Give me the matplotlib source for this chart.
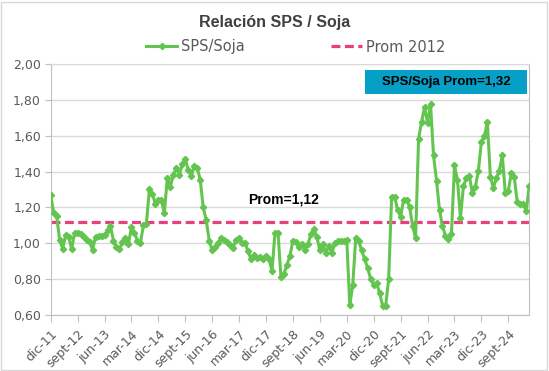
import numpy as np
import matplotlib.pyplot as plt
from matplotlib.lines import Line2D
from matplotlib.patches import Rectangle

# Relación SPS / Soja, mensual desde dic-11 (161 meses)
sps_soja = [
    1.27, 1.17, 1.15, 1.02, 0.97, 1.045, 1.035, 0.97, 1.055, 1.06,
    1.05, 1.035, 1.02, 1.005, 0.965, 1.035, 1.04, 1.04, 1.045, 1.075,
    1.095, 1.015, 0.98, 0.97, 1.005, 1.03, 0.995, 1.09, 1.06, 1.015,
    1.00, 1.10, 1.11, 1.30, 1.275, 1.22, 1.24, 1.24, 1.17, 1.365,
    1.315, 1.38, 1.42, 1.38, 1.44, 1.47, 1.41, 1.375, 1.43, 1.42,
    1.355, 1.20, 1.13, 1.015, 0.96,
    0.98, 1.00, 1.03, 1.02, 1.005, 0.99, 0.975, 1.02, 1.03, 1.00,
    1.00, 0.955, 0.91, 0.935, 0.92, 0.925, 0.915, 0.93, 0.91, 0.845,
    1.06, 1.06, 0.81, 0.83, 0.88, 0.93, 1.015, 1.005, 0.98, 0.995,
    0.965, 0.995, 1.05, 1.08, 1.035, 0.96, 0.995, 0.945, 0.985, 0.945,
    1.00, 1.01, 1.01, 1.013, 1.017, 0.655, 0.77, 1.03,
    1.01, 0.96, 0.91, 0.86, 0.80, 0.77, 0.78, 0.72, 0.65, 0.65, 0.80,
    1.26, 1.26, 1.185, 1.148, 1.243, 1.243, 1.204, 1.097, 1.028, 1.583,
    1.677, 1.76, 1.67, 1.776, 1.49, 1.35, 1.185, 1.097, 1.04, 1.022,
    1.054, 1.434, 1.353, 1.14, 1.32, 1.364, 1.374, 1.278, 1.316, 1.405,
    1.564, 1.596, 1.677, 1.372, 1.308, 1.364, 1.405, 1.49, 1.28, 1.293,
    1.39, 1.368, 1.228, 1.22, 1.22, 1.18, 1.32,
]
prom_2012 = 1.12
prom_total = 1.32

tick_labels = [
    "dic-11", "sept-12", "jun-13", "mar-14", "dic-14", "sept-15",
    "jun-16", "mar-17", "dic-17", "sept-18", "jun-19", "mar-20",
    "dic-20", "sept-21", "jun-22", "mar-23", "dic-23", "sept-24",
]
y_ticks = [0.6, 0.8, 1.0, 1.2, 1.4, 1.6, 1.8, 2.0]

GREEN = "#63C550"
PINK = "#EA3F7E"
GREY_TXT = "#595959"
GRID = "#D9D9D9"
AXIS = "#BFBFBF"


def main() -> None:
    plt.rcParams["font.family"] = ["DejaVu Sans"]
    fig = plt.figure(figsize=(5.49, 3.71), dpi=100)
    ax = fig.add_axes([0.0923, 0.151, 0.8717, 0.6765])

    x = np.arange(len(sps_soja))
    ax.axhline(prom_2012, color=PINK, lw=2.3, ls=(0, (2.8, 1.4)), zorder=2)
    ax.plot(x, sps_soja, color=GREEN, lw=2.2, marker="D", ms=3.2,
            mfc=GREEN, mec=GREEN, zorder=3)

    ax.set_xlim(0, len(sps_soja) - 1)
    ax.set_ylim(0.6, 2.0)
    ax.set_yticks(y_ticks)
    ax.set_yticklabels([f"{v:.2f}".replace(".", ",") for v in y_ticks])
    ax.set_xticks(np.arange(0, len(sps_soja), 9)[: len(tick_labels)])
    ax.set_xticklabels(tick_labels, rotation=45, ha="right",
                       rotation_mode="anchor")

    ax.tick_params(axis="y", labelsize=9, colors=GREY_TXT, length=4,
                   color=AXIS, pad=3)
    ax.tick_params(axis="x", labelsize=9, colors=GREY_TXT, length=5,
                   color=AXIS, pad=4)
    ax.grid(True, axis="y", color=GRID, lw=1)
    ax.set_axisbelow(True)
    for side in ("left", "bottom", "right"):
        ax.spines[side].set_color(AXIS)
    ax.spines["top"].set_color(GRID)

    ax.text(78, 1.245, "Prom=1,12", ha="center", va="center",
            fontsize=10, fontweight="bold", family="Liberation Sans",
            color="black")

    fig.text(0.5, 1 - 22 / 371, "Relación SPS / Soja", ha="center",
             va="center", fontsize=11.5, fontweight="bold",
             family="Liberation Sans", color="#404040")

    handles = [
        Line2D([], [], color=GREEN, lw=2.2, marker="D", ms=3.2),
        Line2D([], [], color=PINK, lw=2.3, ls=(0, (2.8, 1.4))),
    ]
    fig.legend(handles, ["SPS/Soja", "Prom 2012"], loc="center",
               bbox_to_anchor=(296 / 549, 1 - 47 / 371), ncol=2,
               frameon=False, fontsize=10.5, labelcolor=GREY_TXT,
               handlelength=2.1, handletextpad=0.3, columnspacing=5.9)

    fig.patches.append(Rectangle((365 / 549, 1 - 94 / 371), 162 / 549,
                                 24 / 371, transform=fig.transFigure,
                                 facecolor="#06A0C6", edgecolor="none"))
    fig.text(446 / 549, 1 - 82 / 371, f"SPS/Soja Prom={prom_total:.2f}".replace(".", ","),
             ha="center", va="center", fontsize=9.5, fontweight="bold",
             family="Liberation Sans", color="black")

    fig.patches.append(Rectangle((0.002, 0.004), 0.994, 0.99,
                                 transform=fig.transFigure, fill=False,
                                 edgecolor=GRID, lw=1))

    fig.savefig("out.png", dpi=100)
    plt.close(fig)


if __name__ == "__main__":
    main()
